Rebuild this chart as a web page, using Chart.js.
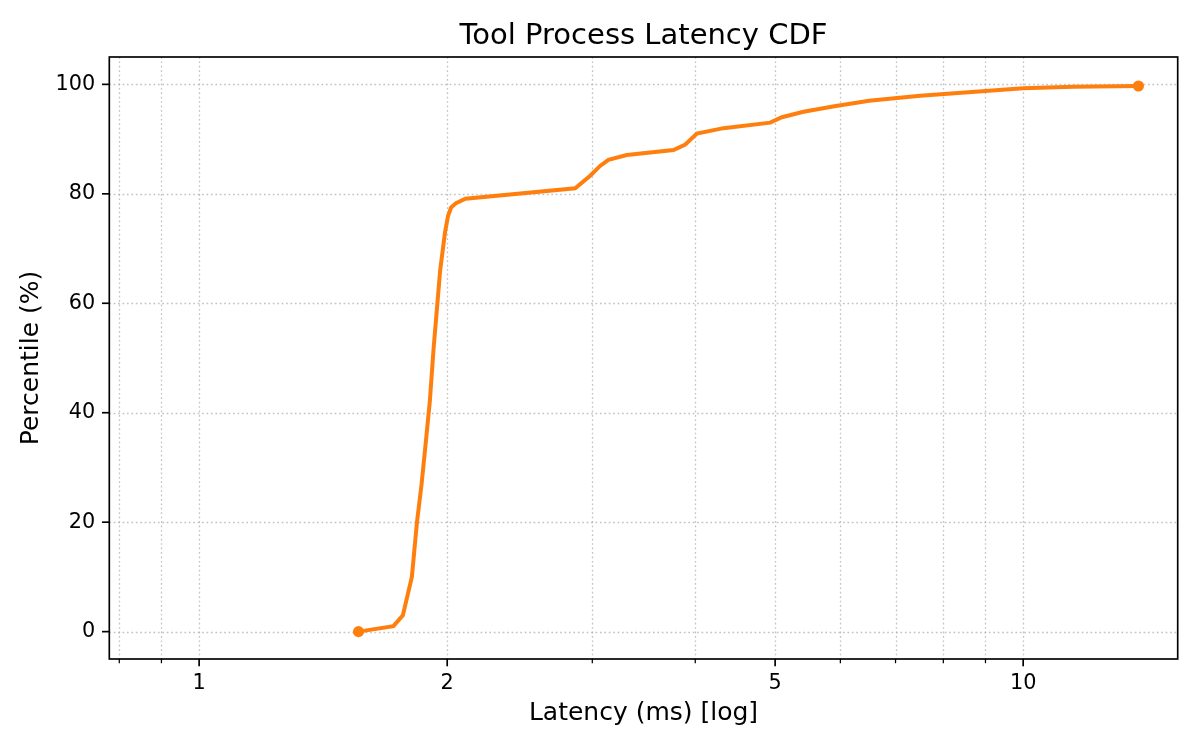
<!DOCTYPE html>
<html>
<head>
<meta charset="utf-8">
<script src="https://cdn.jsdelivr.net/npm/chart.js@4.4.1/dist/chart.umd.min.js"></script>
<style>
  html, body { margin: 0; padding: 0; background: #ffffff; }
  #wrap { width: 1200px; height: 750px; position: relative; }
</style>
</head>
<body>
<div id="wrap"><canvas id="c"></canvas></div>
<script>
// ---- data ----
const latencyMs = [1.561, 1.721, 1.767, 1.812, 1.838, 1.862, 1.885, 1.905, 1.926, 1.946, 1.961, 1.988, 2.005, 2.022, 2.050, 2.105, 2.860, 2.982, 3.066, 3.138, 3.304, 3.764, 3.890, 4.018, 4.328, 4.932, 5.096, 5.412, 5.900, 6.500, 7.500, 9.000, 10.00, 11.50, 13.80];
const percentile = [0, 1, 3, 10, 20, 27, 35, 42, 52, 60, 66, 73, 76, 77.5, 78.3, 79.1, 81, 83.3, 85.1, 86.2, 87.1, 88.0, 89.0, 91.0, 92.0, 93.0, 94.0, 95.0, 96.0, 97.0, 97.9, 98.8, 99.3, 99.55, 99.7];
const xMajorTicks = [1, 2, 5, 10];
const xMinorTicks = [0.8, 0.9, 3, 4, 6, 7, 8, 9];
const yTicks = [0, 20, 40, 60, 80, 100];
const titleText = 'Tool Process Latency CDF';
const xTitle = 'Latency (ms) [log]';
const yTitle = 'Percentile (%)';

const FONT = 'DejaVu Sans';
const LINE_COLOR = '#ff7f0e';
const GRID_COLOR = 'rgba(168,168,168,0.7)';

const decor = {
  id: 'decor',
  beforeDatasetsDraw(chart) {
    const {ctx, chartArea: a, scales: {x, y}} = chart;
    ctx.save();
    ctx.strokeStyle = GRID_COLOR;
    ctx.lineWidth = 1.3;
    ctx.setLineDash([1.67, 2.75]);
    [...xMajorTicks, ...xMinorTicks].forEach(v => {
      const px = Math.round(x.getPixelForValue(v)) + 0.5;
      ctx.beginPath(); ctx.moveTo(px, a.top); ctx.lineTo(px, a.bottom); ctx.stroke();
    });
    yTicks.forEach(v => {
      const py = Math.round(y.getPixelForValue(v)) + 0.5;
      ctx.beginPath(); ctx.moveTo(a.left, py); ctx.lineTo(a.right, py); ctx.stroke();
    });
    ctx.restore();
  },
  afterDatasetsDraw(chart) {
    const {ctx, chartArea: a, scales: {x, y}} = chart;
    ctx.save();
    ctx.setLineDash([]);
    ctx.strokeStyle = '#000000';
    // major ticks
    ctx.lineWidth = 1.67;
    xMajorTicks.forEach(v => {
      const px = x.getPixelForValue(v);
      ctx.beginPath(); ctx.moveTo(px, a.bottom); ctx.lineTo(px, a.bottom + 7.3); ctx.stroke();
    });
    yTicks.forEach(v => {
      const py = y.getPixelForValue(v);
      ctx.beginPath(); ctx.moveTo(a.left, py); ctx.lineTo(a.left - 7.3, py); ctx.stroke();
    });
    // minor ticks
    ctx.lineWidth = 1.25;
    xMinorTicks.forEach(v => {
      const px = x.getPixelForValue(v);
      ctx.beginPath(); ctx.moveTo(px, a.bottom); ctx.lineTo(px, a.bottom + 4.2); ctx.stroke();
    });
    // spines
    ctx.lineWidth = 1.67;
    ctx.strokeRect(a.left, a.top, a.right - a.left, a.bottom - a.top);
    // title centred over the axes
    ctx.fillStyle = '#000000';
    ctx.font = '29px "' + FONT + '"';
    ctx.textAlign = 'center';
    ctx.textBaseline = 'alphabetic';
    ctx.fillText(titleText, (a.left + a.right) / 2, 44.3);
    ctx.restore();
  }
};

new Chart(document.getElementById('c'), {
  type: 'line',
  data: {
    datasets: [{
      data: latencyMs.map((v, i) => ({x: v, y: percentile[i]})),
      borderColor: LINE_COLOR,
      backgroundColor: LINE_COLOR,
      borderWidth: 4,
      tension: 0,
      fill: false,
      pointRadius: c => (c.dataIndex === 0 || c.dataIndex === latencyMs.length - 1) ? 5.6 : 0,
      pointHoverRadius: 0,
      pointBorderWidth: 0,
      pointBackgroundColor: LINE_COLOR,
      clip: false
    }]
  },
  options: {
    responsive: true,
    maintainAspectRatio: false,
    animation: false,
    events: [],
    layout: { padding: { top: 57, right: 22.3, left: 0, bottom: 0 } },
    plugins: { legend: { display: false }, title: { display: false }, tooltip: { enabled: false } },
    scales: {
      x: {
        type: 'logarithmic',
        min: 0.778,
        max: 15.4,
        afterBuildTicks: s => { s.ticks = xMajorTicks.map(v => ({value: v})); },
        afterFit: s => { s.height = 91; },
        ticks: {
          callback: v => String(v),
          autoSkip: false, maxRotation: 0, minRotation: 0,
          padding: 5,
          color: '#000000',
          font: { family: FONT, size: 20.8 }
        },
        grid: { display: true, drawOnChartArea: false, drawTicks: true, tickLength: 7, tickColor: 'rgba(0,0,0,0)', color: 'rgba(0,0,0,0)' },
        border: { display: false },
        title: {
          display: true, text: xTitle, color: '#000000',
          font: { family: FONT, size: 25 },
          padding: { top: 4, bottom: 22 }
        }
      },
      y: {
        type: 'linear',
        min: -5,
        max: 105,
        afterBuildTicks: s => { s.ticks = yTicks.map(v => ({value: v})); },
        afterFit: s => { s.width = 109.3; },
        ticks: {
          callback: v => String(v),
          padding: 7,
          color: '#000000',
          font: { family: FONT, size: 20.8 }
        },
        grid: { display: true, drawOnChartArea: false, drawTicks: true, tickLength: 7, tickColor: 'rgba(0,0,0,0)', color: 'rgba(0,0,0,0)' },
        border: { display: false },
        title: {
          display: true, text: yTitle, color: '#000000',
          font: { family: FONT, size: 25 },
          padding: { top: 16, bottom: 4 }
        }
      }
    }
  },
  plugins: [decor]
});
</script>
</body>
</html>
